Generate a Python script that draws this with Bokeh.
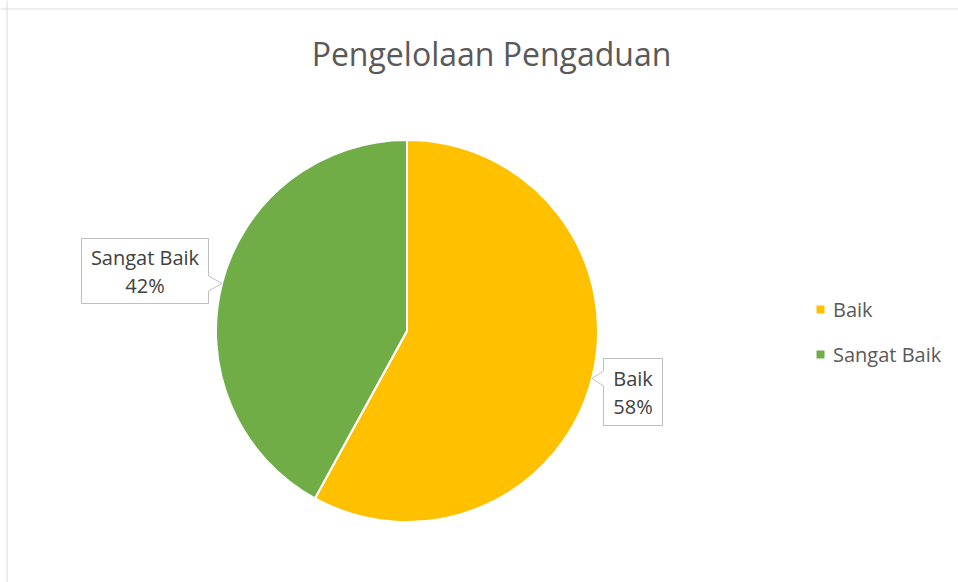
import numpy as np
from bokeh.plotting import figure
from bokeh.models import Range1d, Label, Span, Legend, LegendItem, ColumnDataSource
from bokeh.embed import file_html
from bokeh.resources import INLINE
from bokeh.core.properties import value

# ---- data ----
title_text = "Pengelolaan Pengaduan"
categories = ["Baik", "Sangat Baik"]
values = [58, 42]
colors = ["#FFC000", "#70AD47"]

# ---- layout (screen pixel coordinates of the 958x582 window) ----
W, H = 958, 582
OX, OY = 0, 0
def sx(x): return x - OX
def sy(y): return (OY + H) - y

CX, CY, R = 406.5, 330.5, 191
label_boxes = {"Baik": (603, 358, 662, 425), "Sangat Baik": (81, 238, 208, 303)}
NOTCH = 7.5
LINE_GAP = 14

p = figure(width=W, height=H, x_range=Range1d(0, W), y_range=Range1d(0, H),
           output_backend="svg", toolbar_location=None, min_border=0,
           outline_line_color=None, x_axis_type=None, y_axis_type=None,
           background_fill_color="white", border_fill_color="white")
p.grid.visible = False

# chart border (left & top visible)
p.add_layout(Span(location=sx(6.5), dimension="height", line_color="#D9D9D9", line_width=1))
p.add_layout(Span(location=sy(8.5), dimension="width", line_color="#D9D9D9", line_width=1))

# pie angles
vals = np.array(values, dtype=float)
frac = vals / vals.sum()
cum = np.concatenate([[0], np.cumsum(frac)])
start = np.pi / 2 - 2 * np.pi * cum[:-1]
end = np.pi / 2 - 2 * np.pi * cum[1:]
mid = (start + end) / 2

src = ColumnDataSource(dict(cat=categories, val=values, color=colors,
                            start=start, end=end))
wr = p.wedge(x=sx(CX), y=sy(CY), radius=R, start_angle="start", end_angle="end",
             direction="clock", fill_color="color", line_color=None, source=src)
p.wedge(x=sx(CX), y=sy(CY), radius=R, start_angle="start", end_angle="end",
        direction="clock", fill_color=None, line_color="white", line_width=2, source=src)

# callout boxes
xs_all, ys_all = [], []
tx1, ty1, tx2, ty2, t1, t2 = [], [], [], [], [], []
for i, cat in enumerate(categories):
    x0, y0, x1, y1 = label_boxes[cat]
    tipx = CX + R * np.cos(mid[i])
    tipy = CY - R * np.sin(mid[i])
    nb0, nb1 = tipy - NOTCH, tipy + NOTCH
    if tipx > x1:  # notch on right edge
        pts = [(x0, y0), (x1, y0), (x1, nb0), (tipx, tipy), (x1, nb1), (x1, y1), (x0, y1)]
    else:  # notch on left edge
        pts = [(x0, y0), (x1, y0), (x1, y1), (x0, y1), (x0, nb1), (tipx, tipy), (x0, nb0)]
    xs_all.append([sx(a) for a, b in pts])
    ys_all.append([sy(b) for a, b in pts])
    cx_ = (x0 + x1) / 2
    cy_ = (y0 + y1) / 2
    tx1.append(sx(cx_)); ty1.append(sy(cy_ - LINE_GAP)); t1.append(cat)
    tx2.append(sx(cx_)); ty2.append(sy(cy_ + LINE_GAP)); t2.append(f"{values[i]}%")

p.patches(xs=xs_all, ys=ys_all, fill_color="white", line_color="#BFBFBF", line_width=1)
for tx, ty, tt in ((tx1, ty1, t1), (tx2, ty2, t2)):
    p.text(x=tx, y=ty, text=tt, text_font=value("Open Sans"),
           text_font_size=value("20px"), text_color="#404040",
           text_align="center", text_baseline="middle")

# title
p.add_layout(Label(x=sx(491), y=sy(53), text=title_text, text_font="Open Sans",
                   text_font_size="32px", text_color="#595959",
                   text_align="center", text_baseline="middle"))

# legend
items = [LegendItem(label=cat, renderers=[wr], index=i) for i, cat in enumerate(categories)]
leg = Legend(items=items, location=(815, 214), orientation="vertical",
             glyph_width=10, glyph_height=10, label_height=28, spacing=17,
             label_standoff=8, padding=0, margin=0, border_line_color=None,
             background_fill_alpha=0, label_text_font="Open Sans",
             label_text_font_size="20px", label_text_color="#595959")
p.add_layout(leg, "center")

open("out.html", "w").write(file_html(p, INLINE))
